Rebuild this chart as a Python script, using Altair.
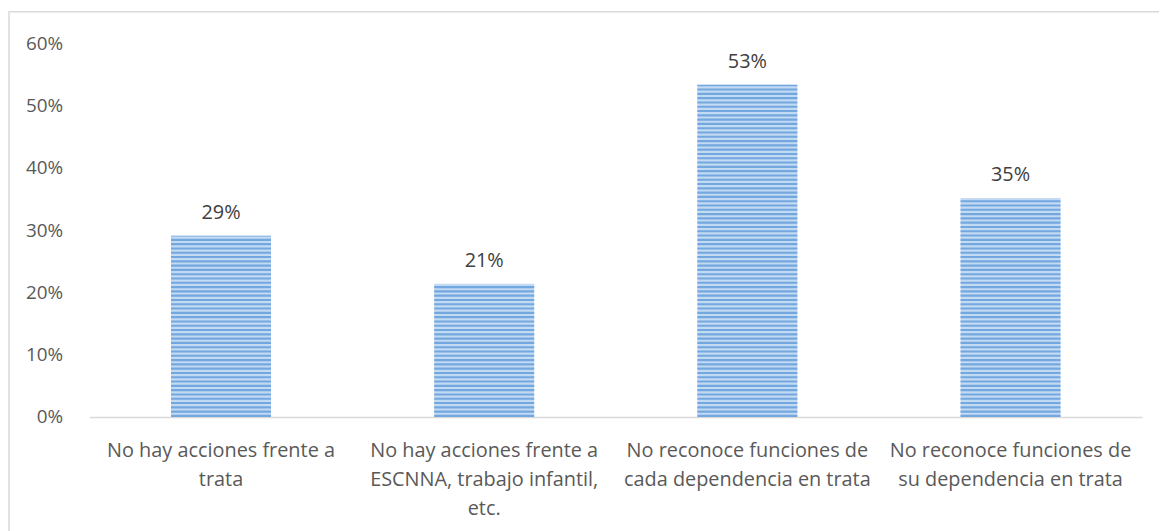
import altair as alt
import pandas as pd

categories = [
    "No hay acciones frente a\ntrata",
    "No hay acciones frente a\nESCNNA, trabajo infantil,\netc.",
    "No reconoce funciones de\ncada dependencia en trata",
    "No reconoce funciones de\nsu dependencia en trata",
]
values = [0.291, 0.214, 0.534, 0.352]

df = pd.DataFrame({"cat": categories, "value": values})

FONT = "Open Sans"
LIGHT = "#c3daf3"
DARK = "#6aa1de"

x_enc = alt.X(
    "cat:N",
    sort=categories,
    scale=alt.Scale(paddingInner=0.62, paddingOuter=0.31),
    axis=alt.Axis(
        title=None,
        labelAngle=0,
        labelExpr="split(datum.label, '\\n')",
        labelFont=FONT,
        labelFontSize=20,
        labelColor="#595959",
        labelLineHeight=29,
        labelPadding=24,
        labelBaseline="top",
        labelLimit=400,
        ticks=False,
        domainColor="#d9d9d9",
        domainWidth=1.5,
    ),
)

y_scale = alt.Scale(domain=[0, 0.6])
y_axis = alt.Axis(
    title=None,
    format=".0%",
    values=[0, 0.1, 0.2, 0.3, 0.4, 0.5, 0.6],
    grid=False,
    domain=False,
    ticks=False,
    labelPadding=27,
    labelFont=FONT,
    labelFontSize=19,
    labelColor="#595959",
)

base = alt.Chart(df)

bars = base.mark_bar(color=LIGHT).encode(
    x=x_enc,
    y=alt.Y("value:Q", scale=y_scale, axis=y_axis),
)

stripes = (
    base.transform_calculate(s="sequence(0, datum.value, 0.0069)")
    .transform_flatten(["s"])
    .transform_calculate(s2="min(datum.s + 0.0034, datum.value)")
    .mark_bar(color=DARK, opacity=0.9)
    .encode(x=alt.X("cat:N", sort=categories), y="s:Q", y2="s2:Q")
)

labels = base.mark_text(
    font=FONT, fontSize=20, color="#404040", baseline="alphabetic", dy=-17
).encode(
    x=alt.X("cat:N", sort=categories),
    y="value:Q",
    text=alt.Text("value:Q", format=".0%"),
)

border = (
    alt.Chart(pd.DataFrame({"k": [0]}))
    .mark_rect(fill="transparent", stroke="#d9d9d9", strokeWidth=1.5)
    .encode(
        x=alt.value(-81), x2=alt.value(1200), y=alt.value(-32), y2=alt.value(600)
    )
)

chart = (
    alt.layer(border, bars, stripes, labels)
    .properties(
        width=1060,
        height=376,
        autosize=alt.AutoSizeParams(type="none"),
        padding={"left": 82, "top": 34, "right": 17, "bottom": 113},
        background="white",
    )
    .configure_view(stroke="transparent", strokeWidth=0)
)

chart.save("out.html", embed_options={"renderer": "svg", "actions": False})
